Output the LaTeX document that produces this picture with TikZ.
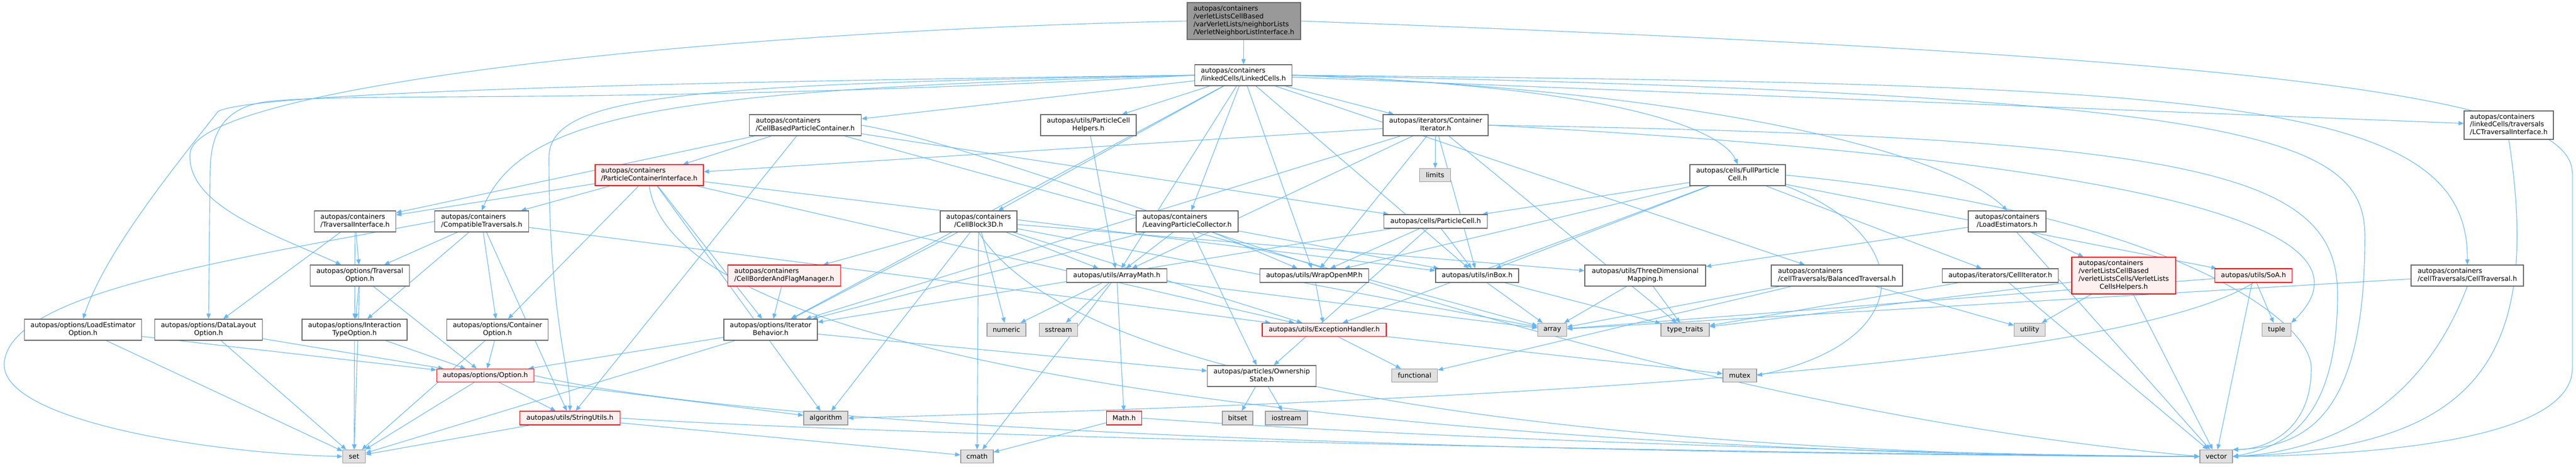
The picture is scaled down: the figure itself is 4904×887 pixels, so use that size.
\documentclass[tikz,border=0pt]{standalone}
\usepackage{fontspec}
\setmainfont{DejaVu Sans}
\usetikzlibrary{arrows.meta}
\definecolor{edgeblue}{HTML}{63B8FF}
\definecolor{boxborder}{HTML}{666666}
\definecolor{redborder}{HTML}{FF0000}
\definecolor{redfill}{HTML}{FFF0F0}
\definecolor{leaffill}{HTML}{E0E0E0}
\definecolor{leafborder}{HTML}{999999}
\definecolor{rootfill}{HTML}{999999}
\pgfdeclarelayer{bg}
\pgfsetlayers{bg,main}
\newcommand{\nf}{\fontsize{12.8}{14.8}\selectfont}
\newcommand{\LLtwo}[2]{\begin{tabular}{@{}l@{}}#1\\\multicolumn{1}{@{}c@{}}{#2}\end{tabular}}
\newcommand{\LLthree}[3]{\begin{tabular}{@{}l@{}}#1\\#2\\\multicolumn{1}{@{}c@{}}{#3}\end{tabular}}
\newcommand{\LLfour}[4]{\begin{tabular}{@{}l@{}}#1\\#2\\#3\\\multicolumn{1}{@{}c@{}}{#4}\end{tabular}}
\tikzset{
  box/.style={draw=boxborder, fill=white, line width=1.3pt, inner sep=0pt, font=\nf, text=black},
  redbox/.style={box, draw=redborder, fill=redfill},
  leaf/.style={box, draw=leafborder, fill=leaffill},
  rootbox/.style={box, draw=boxborder, fill=rootfill},
  dep/.style={draw=edgeblue, line width=1.1pt, -{Triangle[length=10pt,width=8pt]}},
}
\begin{document}
\begin{tikzpicture}[x=1pt,y=-1pt]
\useasboundingbox (0,0) rectangle (4904,887);
% row 1-2
\node[rootbox,minimum width=216pt,minimum height=70pt] (top) at (2368,40) {\LLfour{autopas/containers}{/verletListsCellBased}{/varVerletLists/neighborLists}{/VerletNeighborListInterface.h}};
\node[box,minimum width=185pt,minimum height=40pt] (lc) at (2367,143) {\LLtwo{autopas/containers}{/linkedCells/LinkedCells.h}};
% row 3
\node[box,minimum width=213pt,minimum height=40pt] (cbpc) at (1533,238) {\LLtwo{autopas/containers}{/CellBasedParticleContainer.h}};
\node[box,minimum width=182pt,minimum height=40pt] (pch) at (2072,238) {\LLtwo{autopas/utils/ParticleCell}{Helpers.h}};
\node[box,minimum width=200pt,minimum height=40pt] (ci) at (2733,238) {\LLtwo{autopas/iterators/Container}{Iterator.h}};
\node[box,minimum width=170pt,minimum height=54pt] (lcti) at (4776,238) {\LLthree{autopas/containers}{/linkedCells/traversals}{/LCTraversalInterface.h}};
% row 4
\node[redbox,minimum width=206pt,minimum height=40pt] (pci) at (1236,333) {\LLtwo{autopas/containers}{/ParticleContainerInterface.h}};
\node[box,minimum width=182pt,minimum height=40pt] (fpc) at (3308,333) {\LLtwo{autopas/cells/FullParticle}{Cell.h}};
\node[leaf,minimum width=59pt,minimum height=25pt] (limits) at (2732,333) {limits};
% row 5
\node[box,minimum width=155pt,minimum height=40pt] (ti) at (676,421) {\LLtwo{autopas/containers}{/TraversalInterface.h}};
\node[box,minimum width=179pt,minimum height=40pt] (ct) at (917,421) {\LLtwo{autopas/containers}{/CompatibleTraversals.h}};
\node[box,minimum width=146pt,minimum height=40pt] (cb3d) at (1863,421) {\LLtwo{autopas/containers}{/CellBlock3D.h}};
\node[box,minimum width=194pt,minimum height=40pt] (lpc) at (2260,421) {\LLtwo{autopas/containers}{/LeavingParticleCollector.h}};
\node[box,minimum width=197pt,minimum height=26pt] (pc) at (2733,421) {autopas/cells/ParticleCell.h};
\node[box,minimum width=148pt,minimum height=40pt] (le) at (3821,421) {\LLtwo{autopas/containers}{/LoadEstimators.h}};
% row 6
\node[box,minimum width=189pt,minimum height=40pt] (tro) at (685,524) {\LLtwo{autopas/options/Traversal}{Option.h}};
\node[redbox,minimum width=215pt,minimum height=40pt] (cbafm) at (1493,524) {\LLtwo{autopas/containers}{/CellBorderAndFlagManager.h}};
\node[box,minimum width=191pt,minimum height=26pt] (am) at (2126,524) {autopas/utils/ArrayMath.h};
\node[box,minimum width=207pt,minimum height=26pt] (omp) at (2502,524) {autopas/utils/WrapOpenMP.h};
\node[box,minimum width=158pt,minimum height=26pt] (inbox) at (2812,524) {autopas/utils/inBox.h};
\node[box,minimum width=230pt,minimum height=40pt] (tdm) at (3132,524) {\LLtwo{autopas/utils/ThreeDimensional}{Mapping.h}};
\node[box,minimum width=250pt,minimum height=40pt] (bt) at (3497,524) {\LLtwo{autopas/containers}{/cellTraversals/BalancedTraversal.h}};
\node[box,minimum width=221pt,minimum height=26pt] (cit) at (3808,524) {autopas/iterators/CellIterator.h};
\node[redbox,minimum width=198pt,minimum height=70pt] (vlch) at (4043,524) {\LLfour{autopas/containers}{/verletListsCellBased}{/verletListsCells/VerletLists}{CellsHelpers.h}};
\node[redbox,minimum width=147pt,minimum height=26pt] (soa) at (4290,524) {autopas/utils/SoA.h};
\node[box,minimum width=214pt,minimum height=40pt] (ctr) at (4697,524) {\LLtwo{autopas/containers}{/cellTraversals/CellTraversal.h}};
% row 7
\node[box,minimum width=223pt,minimum height=40pt] (leo) at (158,627) {\LLtwo{autopas/options/LoadEstimator}{Option.h}};
\node[box,minimum width=205pt,minimum height=40pt] (dlo) at (397,627) {\LLtwo{autopas/options/DataLayout}{Option.h}};
\node[box,minimum width=200pt,minimum height=40pt] (ito) at (675,627) {\LLtwo{autopas/options/Interaction}{TypeOption.h}};
\node[box,minimum width=193pt,minimum height=40pt] (co) at (947,627) {\LLtwo{autopas/options/Container}{Option.h}};
\node[box,minimum width=178pt,minimum height=40pt] (ib) at (1467,627) {\LLtwo{autopas/options/Iterator}{Behavior.h}};
\node[leaf,minimum width=74pt,minimum height=25pt] (numeric) at (1916,627) {numeric};
\node[leaf,minimum width=73pt,minimum height=25pt] (sstream) at (2015,627) {sstream};
\node[redbox,minimum width=236pt,minimum height=25pt] (eh) at (2521,627) {autopas/utils/ExceptionHandler.h};
\node[leaf,minimum width=55pt,minimum height=25pt] (array) at (2955,627) {array};
\node[leaf,minimum width=92pt,minimum height=25pt] (tt) at (3208,627) {type\_traits};
\node[leaf,minimum width=59pt,minimum height=25pt] (utility) at (3864,627) {utility};
\node[leaf,minimum width=55pt,minimum height=25pt] (tuple) at (4334,627) {tuple};
% row 8
\node[redbox,minimum width=185pt,minimum height=25pt] (opt) at (924,714) {autopas/options/Option.h};
\node[box,minimum width=207pt,minimum height=40pt] (os) at (2402,715) {\LLtwo{autopas/particles/Ownership}{State.h}};
\node[leaf,minimum width=87pt,minimum height=25pt] (functional) at (2693,714) {functional};
\node[leaf,minimum width=64pt,minimum height=25pt] (mutex) at (3312,714) {mutex};
% row 9
\node[redbox,minimum width=191pt,minimum height=26pt] (su) at (1085,795) {autopas/utils/StringUtils.h};
\node[leaf,minimum width=84pt,minimum height=26pt] (algorithm) at (1572,795) {algorithm};
\node[redbox,minimum width=67pt,minimum height=26pt] (mathh) at (2140,795) {Math.h};
\node[leaf,minimum width=58pt,minimum height=26pt] (bitset) at (2356,795) {bitset};
\node[leaf,minimum width=80pt,minimum height=26pt] (iostream) at (2449,795) {iostream};
% row 10
\node[leaf,minimum width=43pt,minimum height=25pt] (set) at (674,868) {set};
\node[leaf,minimum width=62pt,minimum height=25pt] (cmath) at (1860,868) {cmath};
\node[leaf,minimum width=62pt,minimum height=25pt] (vector) at (4219,868) {vector};

\begin{pgfonlayer}{bg}
\fill[white] (0,0) rectangle (4904,887);
\foreach \a/\b in {top/lc,
  lc/cbpc, lc/pch, lc/ci, lc/lcti, lc/cb3d, lc/lpc, lc/bt, lc/ib, lc/am, lc/inbox, lc/omp,
  cbpc/pci, cbpc/ti, cbpc/su, cbpc/array, cbpc/pc,
  pci/ti, pci/ct, pci/co, pci/ib, pci/inbox, pci/eh, pci/algorithm,
  ci/limits, ci/pci, ci/ib, ci/am, ci/omp, ci/inbox, ci/tt,
  fpc/pc, fpc/omp, fpc/cit, fpc/soa, fpc/eh, fpc/inbox,
  pc/omp, pc/os, pc/inbox, pc/ib,
  lpc/am, lpc/omp, lpc/os, lpc/inbox, lpc/ib,
  le/tdm, le/vlch, le/vector,
  bt/array, bt/functional, bt/utility,
  cit/tt, cit/vector,
  vlch/utility, vlch/vector, vlch/tt,
  soa/tuple, soa/vector, soa/array,
  ctr/array, tdm/tt, tdm/array, pch/am, mathh/cmath,
  am/numeric, am/sstream, am/mathh, am/array, am/cmath,
  cb3d/cbafm, cb3d/ib, cb3d/algorithm, cb3d/cmath, cb3d/numeric, cb3d/am, cb3d/eh, cb3d/tdm, cb3d/array,
  eh/functional, eh/mutex, omp/eh, inbox/array, inbox/tt,
  os/bitset, os/iostream,
  ib/opt, ib/os, ib/set,
  tro/ito, tro/opt, tro/set,
  ti/tro, ti/dlo, ti/ito,
  ct/tro, ct/ito, ct/co, ct/su, ct/eh,
  leo/opt, leo/set, dlo/opt, dlo/set, ito/opt, ito/set, co/opt, co/set,
  opt/set, opt/su, opt/algorithm,
  su/set, su/cmath, cbafm/ib}
  \draw[dep] (\a) -- (\b);
% curved edges
\draw[dep] (lc.west) .. controls (1300,170) and (1000,210) .. (ct.north);
\draw[dep] (lc.east) .. controls (3100,165) and (3280,250) .. (fpc.north);
\draw[dep] (lc.east) .. controls (3300,175) and (3720,300) .. (le.north);
% long routed edges
\draw[dep] (top.west) .. controls (1300,60) and (380,170) .. (362,290) .. controls (352,390) and (520,445) .. (tro.150);
\draw[dep] (top.east) .. controls (4400,110) and (4897,190) .. (4897,330) -- (4897,700) .. controls (4897,840) and (4500,866) .. (vector.east);
\draw[dep] (lc.west) .. controls (1300,155) and (480,175) .. (415,212) .. controls (330,320) and (200,480) .. (leo.north);
\draw[dep] (lc.west) .. controls (1200,200) and (700,175) .. (520,192) .. controls (420,200) and (400,260) .. (400,330) -- (dlo.north);
\draw[dep] (lc.west) .. controls (1300,160) and (1045,180) .. (1045,300) .. controls (1045,600) and (1085,700) .. (su.north);
\draw[dep] (lc.east) .. controls (4200,160) and (4701,180) .. (ctr.north);
\draw[dep] (lc.east) .. controls (4300,180) and (4502,260) .. (4502,450) .. controls (4502,780) and (4400,850) .. (vector.north east);
\draw[dep] (ct.west) .. controls (400,500) and (20,560) .. (8,690) .. controls (0,800) and (400,862) .. (set.west);
\draw[dep] (ci.east) .. controls (4200,260) and (4450,330) .. (4450,560) .. controls (4450,800) and (4350,850) .. (vector.east);
\draw[dep] (ci.east) .. controls (4000,300) and (4560,420) .. (tuple.north east);
\draw[dep] (lcti.south) .. controls (4843,700) and (4700,852) .. (vector.east);
\draw[dep] (ctr.south) .. controls (4600,800) and (4400,860) .. (vector.east);
\draw[dep] (fpc.east) .. controls (4100,400) and (4400,600) .. (4400,700) .. controls (4400,830) and (4300,855) .. (vector.north east);
\draw[dep] (fpc.south east) .. controls (3650,450) and (3650,650) .. (mutex.east);
\draw[dep] (opt.east) .. controls (1600,850) and (3600,866) .. (vector.west);
\draw[dep] (su.east) .. controls (1800,835) and (3600,866) .. (vector.west);
\draw[dep] (mathh.east) .. controls (2800,840) and (3800,866) .. (vector.west);
\draw[dep] (cb3d.south) .. controls (2100,820) and (3600,870) .. (vector.west);
\draw[dep] (pci.south) .. controls (1300,800) and (3500,872) .. (vector.west);
\draw[dep] (cbpc.east) .. controls (2000,300) and (3000,760) .. (vector.west);
\draw[dep] (soa.south) .. controls (4000,720) and (2500,770) .. (algorithm.east);
\end{pgfonlayer}
\end{tikzpicture}
\end{document}
